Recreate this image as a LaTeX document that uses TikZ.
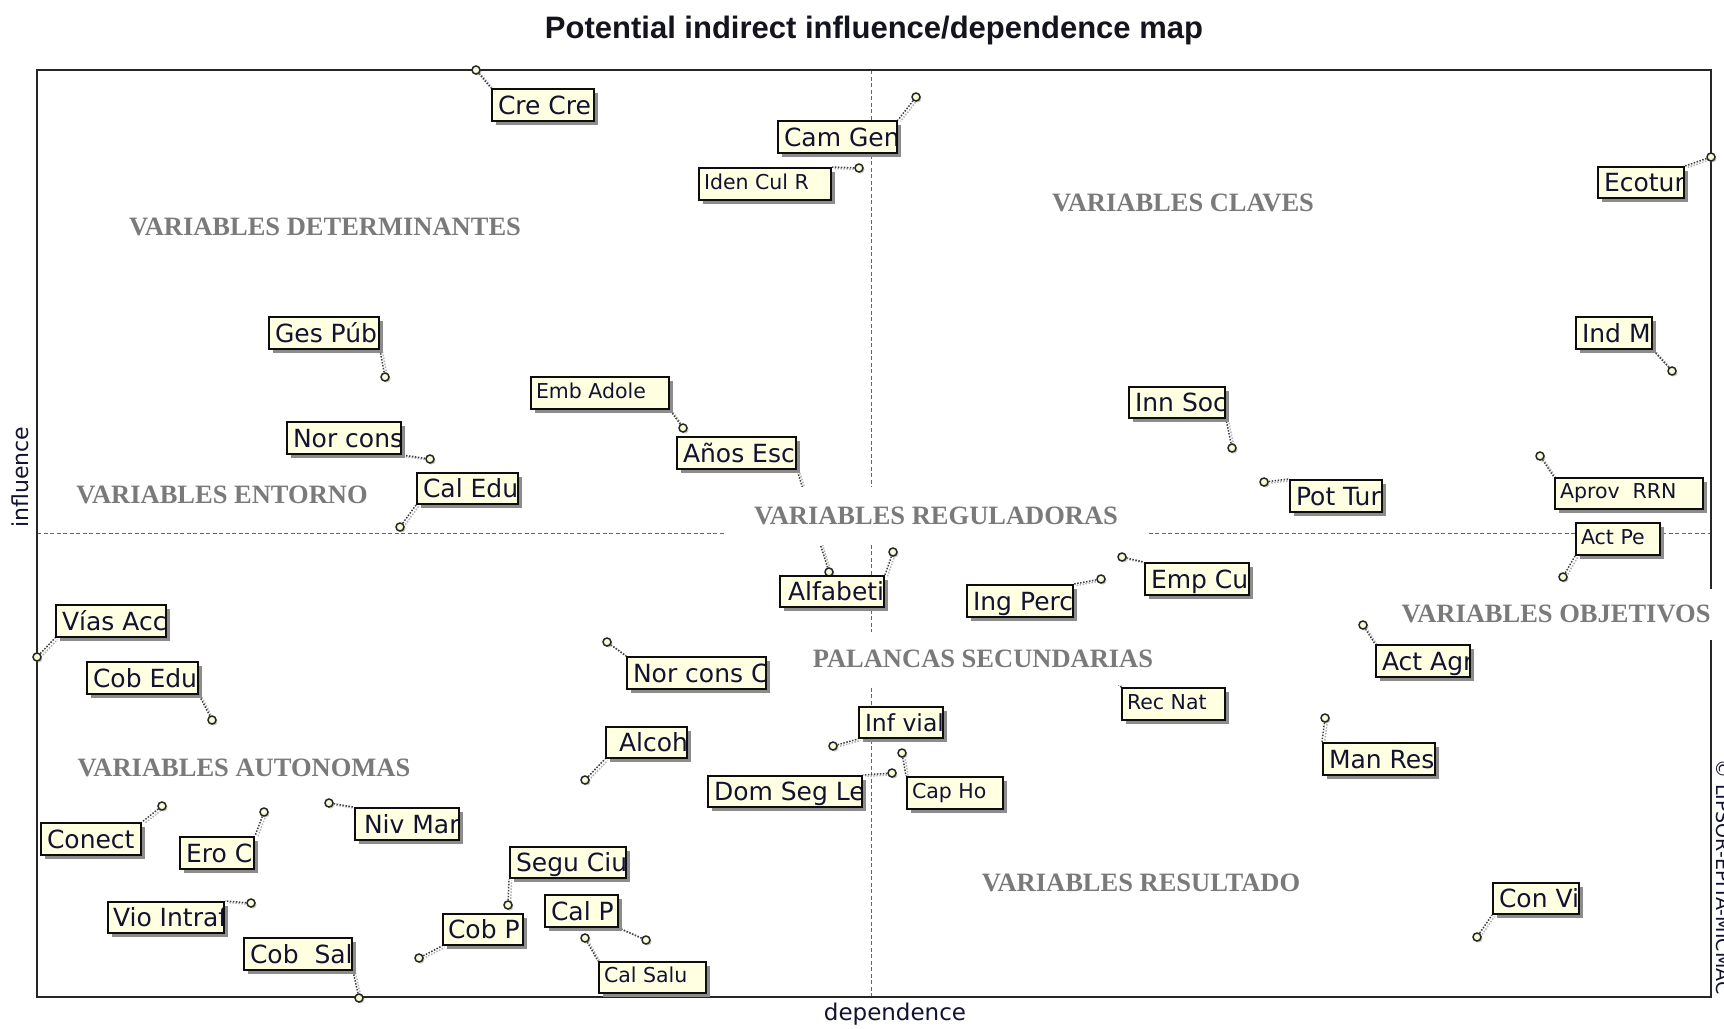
\documentclass[tikz,border=0pt]{standalone}
\usepackage{fontspec}
\setmainfont{Liberation Serif}
\newfontfamily\labfont{DejaVu Sans}
\newfontfamily\headfont{Liberation Sans}
\newfontfamily\zonefont{Liberation Serif}
\usetikzlibrary{shadows}

\definecolor{boxfill}{RGB}{255,255,225}
\definecolor{dotfill}{RGB}{250,250,215}
\definecolor{zonegray}{RGB}{122,122,122}
\definecolor{labtext}{RGB}{18,18,50}
\definecolor{headtext}{RGB}{20,20,30}

\pgfdeclarelayer{back}
\pgfdeclarelayer{lead}
\pgfsetlayers{back,lead,main}

\tikzset{
  frameline/.style={draw=black!85, line width=2.4pt},
  axisdash/.style={draw=black!60, line width=1pt, dash pattern=on 4pt off 2.5pt},
  zone/.style={font=\zonefont\bfseries\fontsize{26.5}{30}\selectfont, text=zonegray, inner sep=0pt},
  zonebg/.style={zone, fill=white},
  varbox/.style={draw=black!95, line width=2pt, fill=boxfill, inner sep=0pt, rectangle},
  boxshade/.style={fill=black!45},
  boxtext/.style={anchor=base west, inner sep=0pt, draw=none, fill=none, text=labtext,
    minimum width=0pt, minimum height=0pt,
    font=\labfont\fontsize{25}{28}\selectfont},
  smalltext/.style={font=\labfont\fontsize{20.5}{24}\selectfont},
  narrowtext/.style={font=\labfont\fontsize{23.5}{28}\selectfont},
  vdot/.style={circle, draw=black!85, line width=1.5pt, fill=dotfill, inner sep=0pt,
    minimum size=8pt, drop shadow={shadow xshift=1.5pt, shadow yshift=-1.5pt, fill=black!45}},
  leader/.style={draw=black!75, line width=1.5pt, dash pattern=on 1.5pt off 1.5pt,
    preaction={draw=black!30, line width=1.5pt, dash pattern=on 1.5pt off 1.5pt,
      transform canvas={xshift=2.5pt, yshift=-1.5pt}}},
  axislabel/.style={font=\labfont\fontsize{22}{26}\selectfont, text=labtext, inner sep=0pt}
}

% #1 name, #2 left, #3 top, #4 right, #5 bottom, #6 left padding, #7 baseline height, #8 text options, #9 text
\newcommand\varlabel[9]{%
  \fill[boxshade] ({#2+3.5},{#3+3.5}) rectangle ({#4+3.5},{#5+3.5});
  \node[varbox, minimum width={#4pt-#2pt}, minimum height={#5pt-#3pt},
    path picture={\node[boxtext,#8] (#1-t)
      at ([xshift=#6pt, yshift=#7pt]path picture bounding box.south west) {#9};}]
    (#1) at ({(#2+#4)/2},{(#3+#5)/2}) {};
}
% large and small label variants
\newcommand\biglabel[6]{\varlabel{#1}{#2}{#3}{#4}{#5}{5}{6.5}{}{#6}}
\newcommand\smalllabel[6]{\varlabel{#1}{#2}{#3}{#4}{#5}{4}{11}{smalltext}{#6}}

\begin{document}
\begin{tikzpicture}[x=1pt, y=-1pt]
\useasboundingbox (0,0) rectangle (1724,1028);

\begin{pgfonlayer}{back}
  \fill[white] (0,0) rectangle (1724,1028);
  \draw[axisdash] (871,70) -- (871,997);
  \draw[axisdash] (37,533) -- (1711,533);
  \draw[frameline] (37,70) rectangle (1711,997);
\end{pgfonlayer}

% title and axis names
\node[font=\headfont\bfseries\fontsize{31}{36}\selectfont, text=headtext] (title) at (874,30)
  {Potential indirect influence/dependence map};
\node[axislabel, rotate=90] (ylab) at (20,477) {influence};
\node[axislabel, font=\labfont\fontsize{23}{26}\selectfont] (xlab) at (895,1014) {dependence};
\node[anchor=base west, rotate=-90, inner sep=0pt, text=labtext,
  font=\labfont\fontsize{19}{22}\selectfont] (mark) at (1716,759) {© LIPSOR-EPITA-MICMAC};

% zone names
\node[zone] (zdet) at (325,227) {VARIABLES DETERMINANTES};
\node[zone] (zcla) at (1183,203) {VARIABLES CLAVES};
\node[zone] (zent) at (222,495) {VARIABLES ENTORNO};
\node[zonebg, minimum width=423pt, minimum height=58pt] (zreg) at (936,516) {VARIABLES REGULADORAS};
\node[zonebg, inner xsep=6pt, minimum height=53pt] (zpal) at (983,658.5) {PALANCAS SECUNDARIAS};
\node[zonebg, inner xsep=4pt, minimum height=51pt] (zobj) at (1556,614) {VARIABLES OBJETIVOS};
\node[zone] (zaut) at (244,768) {VARIABLES AUTONOMAS};
\node[zone] (zres) at (1141,883) {VARIABLES RESULTADO};

% variable positions
\node[vdot] (crecre-p) at (476,70) {};
\node[vdot] (camgen-p) at (916,97) {};
\node[vdot] (idencul-p) at (859,168) {};
\node[vdot] (ecotur-p) at (1711,157) {};
\node[vdot] (gespub-p) at (385,377) {};
\node[vdot] (embadole-p) at (683,428) {};
\node[vdot] (anosesc-p) at (829,572) {};
\node[vdot] (norcons-p) at (430,459) {};
\node[vdot] (caledu-p) at (400,527) {};
\node[vdot] (indm-p) at (1672,371) {};
\node[vdot] (innsoc-p) at (1232,448) {};
\node[vdot] (pottur-p) at (1264,482) {};
\node[vdot] (aprov-p) at (1540,456) {};
\node[vdot] (actpe-p) at (1563,577) {};
\node[vdot] (empcu-p) at (1122,557) {};
\node[vdot] (ingperc-p) at (1101,579) {};
\node[vdot] (alfabeti-p) at (893,552) {};
\node[vdot] (viasacc-p) at (37,657) {};
\node[vdot] (cobedu-p) at (212,720) {};
\node[vdot] (norconsc-p) at (607,642) {};
\node[vdot] (alcoh-p) at (585,780) {};
\node[vdot] (infvial-p) at (833,746) {};
\node[vdot] (domseg-p) at (892,773) {};
\node[vdot] (capho-p) at (902,753) {};
\node[vdot] (conect-p) at (162,806) {};
\node[vdot] (eroc-p) at (264,812) {};
\node[vdot] (nivmar-p) at (329,803) {};
\node[vdot] (viointraf-p) at (251,903) {};
\node[vdot] (cobsal-p) at (359,998) {};
\node[vdot] (seguciu-p) at (508,905) {};
\node[vdot] (cobp-p) at (419,958) {};
\node[vdot] (calp-p) at (646,940) {};
\node[vdot] (calsalu-p) at (585,938) {};
\node[vdot] (actagr-p) at (1363,625) {};
\coordinate (recnat-p) at (1116,682);
\node[vdot] (manres-p) at (1325,718) {};
\node[vdot] (convi-p) at (1477,937) {};

% variable labels
\biglabel{crecre}{492}{89}{594}{121}{Cre Cre}
\biglabel{camgen}{778}{121}{897}{153}{Cam Gen}
\smalllabel{idencul}{699}{168}{831}{200}{Iden Cul R}
\biglabel{ecotur}{1598}{167}{1684}{198}{Ecotur}
\biglabel{gespub}{269}{317}{379}{349}{Ges Púb}
\smalllabel{embadole}{531}{377}{669}{409}{Emb Adole}
\biglabel{anosesc}{677}{437}{796}{469}{Años Esc}
\biglabel{norcons}{287}{422}{401}{454}{Nor cons}
\biglabel{caledu}{417}{473}{518}{504}{Cal Edu}
\biglabel{indm}{1576}{317}{1652}{349}{Ind M}
\biglabel{innsoc}{1129}{387}{1225}{418}{Inn Soc}
\biglabel{pottur}{1290}{480}{1382}{512}{Pot Tur}
\smalllabel{aprov}{1555}{478}{1703}{509}{Aprov~~RRN}
\smalllabel{actpe}{1576}{523}{1660}{555}{Act Pe}
\biglabel{empcu}{1145}{563}{1249}{595}{Emp Cu}
\biglabel{ingperc}{967}{585}{1073}{617}{Ing Perc}
\varlabel{alfabeti}{780}{576}{884}{607}{7}{6.5}{}{Alfabeti}
\biglabel{viasacc}{56}{605}{166}{637}{Vías Acc}
\biglabel{cobedu}{87}{662}{198}{694}{Cob Edu}
\biglabel{norconsc}{627}{657}{766}{689}{Nor cons C}
\varlabel{alcoh}{606}{727}{687}{758}{12}{6.5}{}{Alcoh}
\varlabel{infvial}{859}{707}{943}{738}{5}{6.5}{narrowtext}{Inf vial}
\biglabel{domseg}{708}{776}{862}{807}{Dom Seg Le}
\smalllabel{capho}{907}{777}{1003}{809}{Cap Ho}
\biglabel{conect}{41}{823}{141}{855}{Conect}
\biglabel{eroc}{180}{837}{254}{869}{Ero C}
\varlabel{nivmar}{355}{808}{459}{840}{8}{6.5}{}{Niv Mar}
\varlabel{viointraf}{108}{902}{224}{933}{4}{6.5}{}{Vio Intraf}
\biglabel{cobsal}{244}{938}{352}{970}{Cob~~Sal}
\biglabel{seguciu}{510}{847}{626}{878}{Segu Ciu}
\varlabel{cobp}{443}{914}{523}{945}{4}{6.5}{}{Cob P}
\biglabel{calp}{545}{895}{618}{927}{Cal P}
\smalllabel{calsalu}{599}{962}{706}{993}{Cal Salu}
\biglabel{actagr}{1376}{645}{1470}{677}{Act Agr}
\smalllabel{recnat}{1122}{688}{1225}{720}{Rec Nat}
\biglabel{manres}{1323}{743}{1435}{775}{Man Res}
\biglabel{convi}{1493}{883}{1579}{914}{Con Vi}

% leaders from each position to its label
\begin{pgfonlayer}{lead}
  \draw[leader] (crecre-p) -- (crecre.north west);
  \draw[leader] (camgen-p) -- (camgen.north east);
  \draw[leader] (idencul-p) -- (idencul.north east);
  \draw[leader] (ecotur-p) -- (ecotur.north east);
  \draw[leader] (gespub-p) -- (gespub.south east);
  \draw[leader] (embadole-p) -- (embadole.south east);
  \draw[leader] (anosesc-p) -- (anosesc.south east);
  \draw[leader] (norcons-p) -- (norcons.south east);
  \draw[leader] (caledu-p) -- (caledu.south west);
  \draw[leader] (indm-p) -- (indm.south east);
  \draw[leader] (innsoc-p) -- (innsoc.south east);
  \draw[leader] (pottur-p) -- (pottur.north west);
  \draw[leader] (aprov-p) -- (aprov.north west);
  \draw[leader] (actpe-p) -- (actpe.south west);
  \draw[leader] (empcu-p) -- (empcu.north west);
  \draw[leader] (ingperc-p) -- (ingperc.north east);
  \draw[leader] (alfabeti-p) -- (alfabeti.north east);
  \draw[leader] (viasacc-p) -- (viasacc.south west);
  \draw[leader] (cobedu-p) -- (cobedu.south east);
  \draw[leader] (norconsc-p) -- (norconsc.north west);
  \draw[leader] (alcoh-p) -- (alcoh.south west);
  \draw[leader] (infvial-p) -- (infvial.south west);
  \draw[leader] (domseg-p) -- (domseg.north east);
  \draw[leader] (capho-p) -- (capho.north west);
  \draw[leader] (conect-p) -- (conect.north east);
  \draw[leader] (eroc-p) -- (eroc.north east);
  \draw[leader] (nivmar-p) -- (nivmar.north west);
  \draw[leader] (viointraf-p) -- (viointraf.north east);
  \draw[leader] (cobsal-p) -- (cobsal.south east);
  \draw[leader] (seguciu-p) -- (seguciu.south west);
  \draw[leader] (cobp-p) -- (cobp.south west);
  \draw[leader] (calp-p) -- (calp.south east);
  \draw[leader] (calsalu-p) -- (calsalu.north west);
  \draw[leader] (actagr-p) -- (actagr.north west);
  \draw[leader] (recnat-p) -- (recnat.north west);
  \draw[leader] (manres-p) -- (manres.north west);
  \draw[leader] (convi-p) -- (convi.south west);
\end{pgfonlayer}
\end{tikzpicture}
\end{document}
